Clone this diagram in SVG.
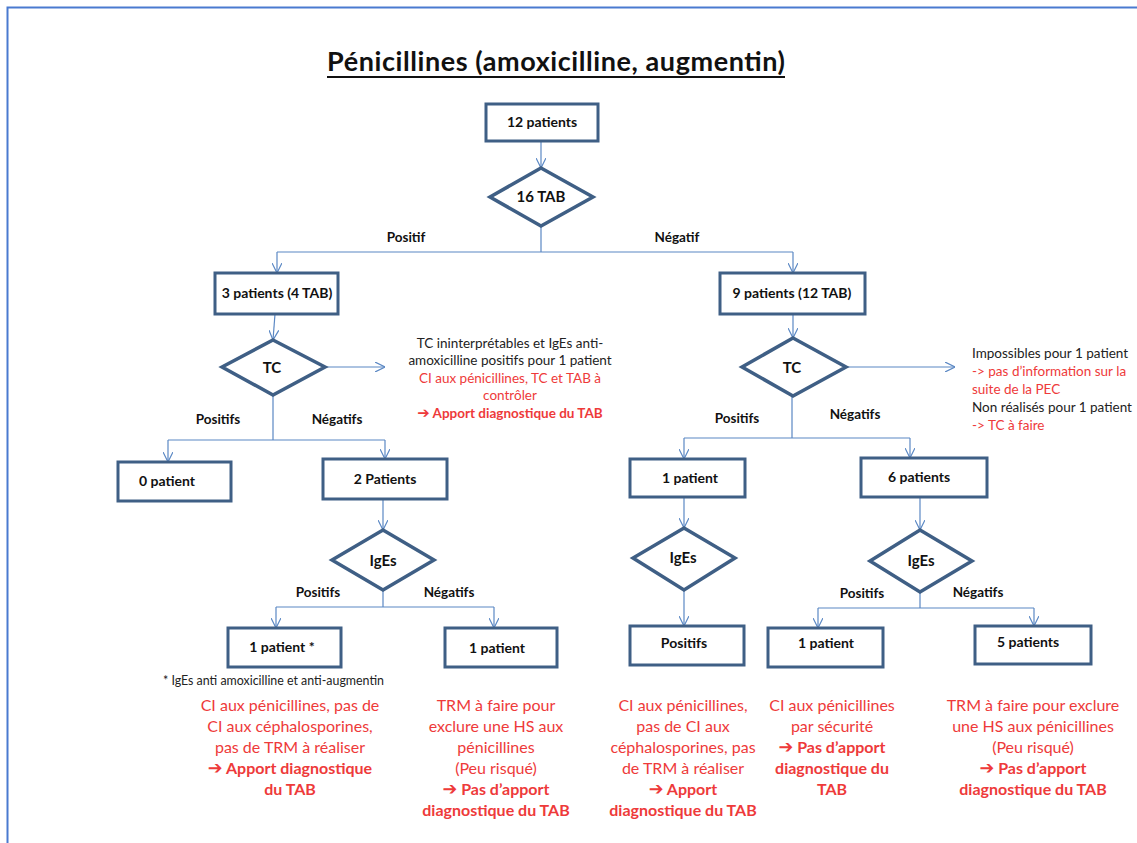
<svg xmlns="http://www.w3.org/2000/svg" width="1137" height="843" viewBox="0 0 1137 843">
<defs>
<style>
.box{fill:#fff;stroke:#3f5f85;stroke-width:3}
.dia{fill:#fff;stroke:#3f5f85;stroke-width:3.5;stroke-linejoin:miter}
.con{fill:none;stroke:#5b88c4;stroke-width:1.2}
.lbl{font-family:Lato,"Liberation Sans",sans-serif;font-weight:bold;font-size:14px;fill:#111;text-anchor:middle}
.dl{font-family:Lato,"Liberation Sans",sans-serif;font-weight:bold;font-size:15px;fill:#111;text-anchor:middle}
.br{font-family:Lato,"Liberation Sans",sans-serif;font-weight:bold;font-size:13.5px;fill:#111;text-anchor:middle}
.note{font-family:Lato,"Liberation Sans",sans-serif;font-size:13.5px;fill:#222}
.noter{font-family:Lato,"Liberation Sans",sans-serif;font-size:13.5px;fill:#ee3a3a}
.red{font-family:Lato,"Liberation Sans",sans-serif;font-size:16px;fill:#ee3a3a;text-anchor:middle}
.rs{font-size:13.5px}
.rb{font-weight:bold}
.arr{font-family:"DejaVu Sans",sans-serif;font-weight:bold;font-size:1.1em}
</style>
<marker id="ah" viewBox="0 0 10 10" refX="10" refY="5" markerWidth="10" markerHeight="10" markerUnits="userSpaceOnUse" orient="auto">
<path d="M0,0 L10,5 L0,10" fill="none" stroke="#5b88c4" stroke-width="1.2"/>
</marker>
</defs>
<rect width="1137" height="843" fill="#fff"/>
<path d="M7.5,843 V7.5 H1137" fill="none" stroke="#4a7ad0" stroke-width="2"/>

<g id="title">
<text x="556" y="71" font-family="Lato,'Liberation Sans',sans-serif" font-weight="bold" font-size="27" text-anchor="middle" fill="#111" textLength="458">Pénicillines (amoxicilline, augmentin)</text>
<line x1="327" y1="77" x2="785" y2="77" stroke="#111" stroke-width="2"/>
</g>

<g id="connectors">
<path class="con" d="M541,141 V168" marker-end="url(#ah)"/>
<path class="con" d="M541,226 V252 M277,252 H793"/>
<path class="con" d="M277,252 V273" marker-end="url(#ah)"/>
<path class="con" d="M793,252 V273" marker-end="url(#ah)"/>
<path class="con" d="M275,314 L273,340" marker-end="url(#ah)"/>
<path class="con" d="M325,367 H385" marker-end="url(#ah)"/>
<path class="con" d="M273,395 V440 M168,440 H385"/>
<path class="con" d="M168,440 V462" marker-end="url(#ah)"/>
<path class="con" d="M385,440 V459" marker-end="url(#ah)"/>
<path class="con" d="M383,499 V530" marker-end="url(#ah)"/>
<path class="con" d="M383,590 V607 M276,607 H494"/>
<path class="con" d="M276,607 V628" marker-end="url(#ah)"/>
<path class="con" d="M494,607 V628" marker-end="url(#ah)"/>
<path class="con" d="M793,314 V338" marker-end="url(#ah)"/>
<path class="con" d="M846,367 H955" marker-end="url(#ah)"/>
<path class="con" d="M792,396 V438 M684,438 H910"/>
<path class="con" d="M684,438 V459" marker-end="url(#ah)"/>
<path class="con" d="M910,438 V458" marker-end="url(#ah)"/>
<path class="con" d="M684,497 V528" marker-end="url(#ah)"/>
<path class="con" d="M684,590 V626" marker-end="url(#ah)"/>
<path class="con" d="M920,497 V530" marker-end="url(#ah)"/>
<path class="con" d="M920,592 V608 M818,608 H1034"/>
<path class="con" d="M818,608 V628" marker-end="url(#ah)"/>
<path class="con" d="M1034,608 V626" marker-end="url(#ah)"/>
</g>

<g id="edge-labels">
<text class="br" x="406" y="242">Positif</text>
<text class="br" x="677" y="242">Négatif</text>
<text class="br" x="218" y="424">Positifs</text>
<text class="br" x="337" y="424">Négatifs</text>
<text class="br" x="318" y="597">Positifs</text>
<text class="br" x="449" y="597">Négatifs</text>
<text class="br" x="737" y="423">Positifs</text>
<text class="br" x="855" y="419">Négatifs</text>
<text class="br" x="862" y="598">Positifs</text>
<text class="br" x="978" y="597">Négatifs</text>
</g>

<g id="n-12patients"><rect class="box" x="486" y="104" width="112" height="37"/><text class="lbl" x="542" y="127">12  patients</text></g>
<g id="n-16tab"><polygon class="dia" points="541,168 593,197 541,226 490,197"/><text class="dl" x="541" y="202">16 TAB</text></g>
<g id="n-3patients"><rect class="box" x="215" y="273" width="123" height="41"/><text class="lbl" x="277" y="298">3 patients (4 TAB)</text></g>
<g id="n-9patients"><rect class="box" x="720" y="273" width="145" height="41"/><text class="lbl" x="792" y="298">9  patients (12 TAB)</text></g>
<g id="n-tc-left"><polygon class="dia" points="273,340 325,367 273,395 222,367"/><text class="dl" x="272" y="373">TC</text></g>
<g id="n-tc-right"><polygon class="dia" points="793,338 846,367 793,396 742,367"/><text class="dl" x="792" y="373">TC</text></g>
<g id="n-0patient"><rect class="box" x="118" y="462" width="113" height="39"/><text class="lbl" x="167" y="486">0 patient</text></g>
<g id="n-2patients"><rect class="box" x="323" y="459" width="124" height="40"/><text class="lbl" x="385" y="484">2 Patients</text></g>
<g id="n-iges-1"><polygon class="dia" points="383,530 434,560 383,590 332,560"/><text class="dl" x="383" y="566">IgEs</text></g>
<g id="n-1patient-star"><rect class="box" x="228" y="628" width="113" height="39"/><text class="lbl" x="282" y="652">1 patient *</text></g>
<g id="n-1patient-a"><rect class="box" x="445" y="628" width="112" height="39"/><text class="lbl" x="497" y="653">1 patient</text></g>
<g id="n-1patient-b"><rect class="box" x="630" y="459" width="115" height="38"/><text class="lbl" x="690" y="483">1 patient</text></g>
<g id="n-6patients"><rect class="box" x="861" y="458" width="126" height="39"/><text class="lbl" x="919" y="482">6 patients</text></g>
<g id="n-iges-2"><polygon class="dia" points="684,528 735,558 684,590 633,558"/><text class="dl" x="683" y="563">IgEs</text></g>
<g id="n-iges-3"><polygon class="dia" points="920,530 972,561 920,592 870,561"/><text class="dl" x="921" y="566">IgEs</text></g>
<g id="n-positifs"><rect class="box" x="630" y="626" width="114" height="39"/><text class="lbl" x="684" y="648">Positifs</text></g>
<g id="n-1patient-c"><rect class="box" x="768" y="628" width="115" height="39"/><text class="lbl" x="826" y="648">1 patient</text></g>
<g id="n-5patients"><rect class="box" x="975" y="626" width="116" height="38"/><text class="lbl" x="1028" y="647">5 patients</text></g>

<g id="note-tc-left">
<text class="note" x="510" y="348" text-anchor="middle">TC ininterprétables et IgEs anti-</text>
<text class="note" x="510" y="365" text-anchor="middle">amoxicilline positifs  pour 1 patient</text>
<text class="red rs" x="510" y="383">CI aux pénicillines, TC et TAB à</text>
<text class="red rs" x="510" y="400">contrôler</text>
<text class="red rs rb" x="510" y="418"><tspan class="arr">➔</tspan> Apport diagnostique du TAB</text>
</g>

<g id="note-tc-right">
<text class="note" x="972" y="358">Impossibles  pour 1 patient</text>
<text class="noter" x="972" y="376">-&gt; pas d’information sur la</text>
<text class="noter" x="972" y="394">suite de la PEC</text>
<text class="note" x="972" y="412">Non réalisés pour 1 patient</text>
<text class="noter" x="972" y="430">-&gt; TC à faire</text>
</g>

<g id="footnote">
<text class="note" x="163" y="685" style="font-size:12.4px">* IgEs anti amoxicilline et anti-augmentin</text>
</g>

<g id="out-1">
<text class="red" x="290" y="711">CI aux pénicillines, pas de</text>
<text class="red" x="290" y="732">CI aux céphalosporines,</text>
<text class="red" x="290" y="753">pas de TRM à réaliser</text>
<text class="red rb" x="290" y="774"><tspan class="arr">➔</tspan> Apport diagnostique</text>
<text class="red rb" x="290" y="795">du TAB</text>
</g>
<g id="out-2">
<text class="red" x="496" y="711">TRM à faire pour</text>
<text class="red" x="496" y="732">exclure une HS aux</text>
<text class="red" x="496" y="753">pénicillines</text>
<text class="red" x="496" y="774">(Peu risqué)</text>
<text class="red rb" x="496" y="795"><tspan class="arr">➔</tspan> Pas d’apport</text>
<text class="red rb" x="496" y="816">diagnostique  du TAB</text>
</g>
<g id="out-3">
<text class="red" x="683" y="711">CI aux pénicillines,</text>
<text class="red" x="683" y="732">pas de CI aux</text>
<text class="red" x="683" y="753">céphalosporines, pas</text>
<text class="red" x="683" y="774">de TRM à réaliser</text>
<text class="red rb" x="683" y="795"><tspan class="arr">➔</tspan> Apport</text>
<text class="red rb" x="683" y="816">diagnostique du TAB</text>
</g>
<g id="out-4">
<text class="red" x="832" y="711">CI aux pénicillines</text>
<text class="red" x="832" y="732">par sécurité</text>
<text class="red rb" x="832" y="753"><tspan class="arr">➔</tspan> Pas d’apport</text>
<text class="red rb" x="832" y="774">diagnostique du</text>
<text class="red rb" x="832" y="795">TAB</text>
</g>
<g id="out-5">
<text class="red" x="1033" y="711">TRM à faire pour exclure</text>
<text class="red" x="1033" y="732">une HS aux pénicillines</text>
<text class="red" x="1033" y="753">(Peu risqué)</text>
<text class="red rb" x="1033" y="774"><tspan class="arr">➔</tspan> Pas d’apport</text>
<text class="red rb" x="1033" y="795">diagnostique du TAB</text>
</g>
</svg>
